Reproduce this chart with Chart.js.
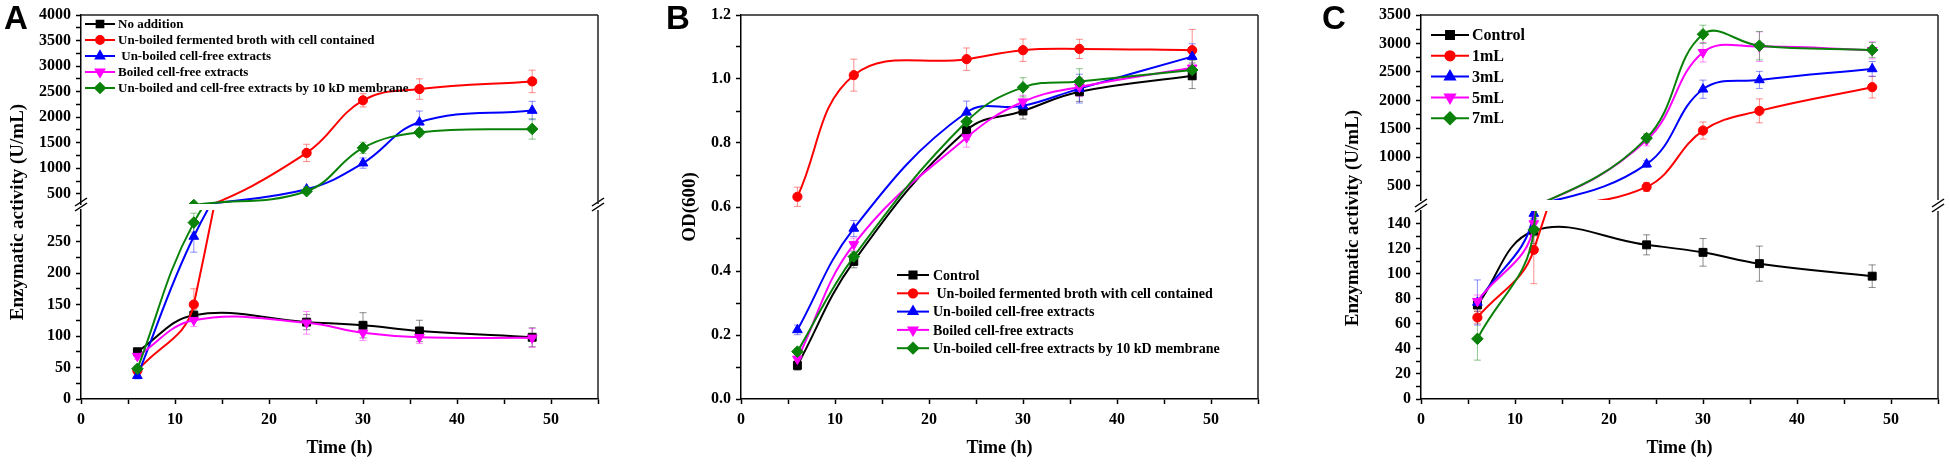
<!DOCTYPE html>
<html>
<head>
<meta charset="utf-8">
<script src="https://cdn.jsdelivr.net/npm/chart.js@4.4.1/dist/chart.umd.min.js"></script>
<style>
  html, body { margin: 0; padding: 0; background: #fff; }
  #wrap { position: relative; width: 1950px; height: 464px; overflow: hidden; background: #fff; }
  #wrap canvas { position: absolute; top: 0; }
</style>
</head>
<body>
<div id="wrap">
  <canvas id="aLower" width="650" height="464" style="left:0px"></canvas>
  <canvas id="aUpper" width="650" height="464" style="left:0px"></canvas>
  <canvas id="chartB" width="650" height="464" style="left:650px"></canvas>
  <canvas id="cLower" width="650" height="464" style="left:1300px"></canvas>
  <canvas id="cUpper" width="650" height="464" style="left:1300px"></canvas>
</div>
<script>
// sampling times (h)
const hours = [6, 12, 24, 30, 36, 48];

// x axis ticks
const xMajor = [0, 10, 20, 30, 40, 50];
const xMinor = [5, 15, 25, 35, 45, 55];

// ---- panel A : enzymatic activity (U/mL)
const namesA = ["No addition", "Un-boiled fermented broth with cell contained",
  " Un-boiled cell-free extracts", "Boiled cell-free extracts",
  "Un-boiled and cell-free extracts by 10 kD membrane"];
const noAdditionA = [75, 133, 122, 117, 108, 98];
const noAdditionErrA = [5, 8, 12, 20, 17, 15];
const brothA = [45, 150, 1300, 2330, 2550, 2700];
const brothErrA = [5, 25, 170, 130, 200, 220];
const cellFreeA = [37, 258, 590, 1100, 1900, 2130];
const cellFreeErrA = [5, 25, 40, 100, 220, 180];
const boiledA = [68, 125, 121, 105, 98, 97];
const boiledErrA = [5, 10, 18, 12, 10, 15];
const membraneA = [48, 280, 550, 1400, 1700, 1770];
const membraneErrA = [5, 15, 40, 110, 70, 200];
const yMajorAUpper = [500, 1000, 1500, 2000, 2500, 3000, 3500, 4000];
const yMinorAUpper = [750, 1250, 1750, 2250, 2750, 3250, 3750];
const yMajorALower = [0, 50, 100, 150, 200, 250];
const yMinorALower = [25, 75, 125, 175, 225, 275];

// ---- panel B : OD(600)
const namesB = ["Control", " Un-boiled fermented broth with cell contained",
  "Un-boiled cell-free extracts", "Boiled cell-free extracts",
  "Un-boiled cell-free extracts by 10 kD membrane"];
const controlB = [0.105, 0.43, 0.84, 0.90, 0.96, 1.01];
const controlErrB = [0.015, 0.02, 0.03, 0.025, 0.03, 0.04];
const brothB = [0.632, 1.012, 1.062, 1.09, 1.094, 1.09];
const brothErrB = [0.03, 0.05, 0.035, 0.035, 0.03, 0.065];
const cellFreeB = [0.216, 0.533, 0.896, 0.916, 0.97, 1.07];
const cellFreeErrB = [0.015, 0.025, 0.035, 0.02, 0.045, 0.04];
const boiledB = [0.125, 0.483, 0.817, 0.929, 0.975, 1.035];
const boiledErrB = [0.01, 0.02, 0.03, 0.02, 0.03, 0.03];
const membraneB = [0.148, 0.445, 0.867, 0.974, 0.992, 1.028];
const membraneErrB = [0.01, 0.015, 0.02, 0.03, 0.04, 0.03];
const yMajorB = [0, 0.2, 0.4, 0.6, 0.8, 1.0, 1.2];
const yMinorB = [0.1, 0.3, 0.5, 0.7, 0.9, 1.1];

// ---- panel C : enzymatic activity with added volume
const namesC = ["Control", "1mL", "3mL", "5mL", "7mL"];
const controlC = [75, 134, 123, 117, 108, 98];
const controlErrC = [5, 10, 8, 11, 14, 9];
const oneMlC = [65, 119, 480, 1470, 1816, 2232];
const oneMlErrC = [5, 27, 80, 150, 210, 190];
const threeMlC = [77, 148, 880, 2196, 2360, 2553];
const threeMlErrC = [18, 5, 60, 160, 150, 130];
const fiveMlC = [78, 140, 1300, 2845, 2944, 2880];
const fiveMlErrC = [5, 5, 100, 170, 260, 150];
const sevenMlC = [48, 135, 1337, 3161, 2961, 2886];
const sevenMlErrC = [17, 5, 80, 160, 250, 130];
const yMajorCUpper = [500, 1000, 1500, 2000, 2500, 3000, 3500];
const yMinorCUpper = [750, 1250, 1750, 2250, 2750, 3250];
const yMajorCLower = [0, 20, 40, 60, 80, 100, 120, 140];
const yMinorCLower = [10, 30, 50, 70, 90, 110, 130];

// series styles (shared by the three panels)
const seriesColors = ["#000000", "#ff0000", "#0000ff", "#ff00ff", "#0a820a"];
const errorColors = ["rgba(0,0,0,0.45)", "rgba(255,0,0,0.45)", "rgba(0,0,255,0.45)",
  "rgba(255,0,255,0.45)", "rgba(0,128,0,0.45)"];
const markerStyles = ["rect", "circle", "triangle", "triangle", "rectRot"];
const markerRotation = [0, 0, 0, 180, 0];
const markerRadius = { rect: 5.6, circle: 4.6, triangle: 5.6, rectRot: 5.8 };

Chart.defaults.font.family = "'Liberation Serif', 'Times New Roman', serif";
Chart.defaults.font.weight = "bold";
Chart.defaults.color = "#000";

function makeDatasets(names, values, errors) {
  return names.map((name, i) => ({
    label: name,
    data: hours.map((h, j) => ({ x: h, y: values[i][j] })),
    errors: errors[i],
    errorColor: errorColors[i],
    borderColor: seriesColors[i],
    backgroundColor: seriesColors[i],
    borderWidth: 2,
    tension: 0.4,
    pointStyle: markerStyles[i],
    pointRotation: markerRotation[i],
    pointRadius: markerRadius[markerStyles[i]],
    pointBorderWidth: 1,
    pointHoverRadius: markerRadius[markerStyles[i]],
    clip: 0,
    order: -i
  }));
}

// error bars drawn below the lines
const errorBars = {
  id: "errorBars",
  beforeDatasetsDraw(chart) {
    const { ctx, chartArea: a } = chart;
    ctx.save();
    ctx.beginPath();
    ctx.rect(a.left, a.top, a.right - a.left, a.bottom - a.top);
    ctx.clip();
    chart.data.datasets.forEach((ds, i) => {
      const meta = chart.getDatasetMeta(i);
      ctx.strokeStyle = ds.errorColor;
      ctx.lineWidth = 1;
      ds.data.forEach((p, j) => {
        const e = ds.errors[j];
        const x = meta.xScale.getPixelForValue(p.x);
        const y1 = meta.yScale.getPixelForValue(p.y + e);
        const y2 = meta.yScale.getPixelForValue(p.y - e);
        ctx.beginPath();
        ctx.moveTo(x, y1); ctx.lineTo(x, y2);
        ctx.moveTo(x - 3.5, y1); ctx.lineTo(x + 3.5, y1);
        ctx.moveTo(x - 3.5, y2); ctx.lineTo(x + 3.5, y2);
        ctx.stroke();
      });
    });
    ctx.restore();
  }
};

// top / right frame lines
const frame = {
  id: "frame",
  afterDraw(chart, args, opts) {
    const { ctx, chartArea: a } = chart;
    ctx.save();
    ctx.strokeStyle = "#222";
    ctx.lineWidth = 1.5;
    ctx.beginPath();
    ctx.moveTo(a.right, a.top);
    ctx.lineTo(a.right, a.bottom);
    if (opts.top) {
      ctx.moveTo(a.left, a.top);
      ctx.lineTo(a.right, a.top);
    }
    ctx.stroke();
    ctx.restore();
  }
};

// "//" marks of the broken y axis
const axisBreak = {
  id: "axisBreak",
  afterDraw(chart, args, opts) {
    if (!opts.show) return;
    const { ctx, chartArea: a } = chart;
    ctx.save();
    ctx.strokeStyle = "#000";
    ctx.lineWidth = 1.5;
    [a.left, a.right].forEach(x => {
      [a.top - 8, a.top - 3].forEach(y => {
        ctx.beginPath();
        ctx.moveTo(x - 6, y + 4);
        ctx.lineTo(x + 6, y - 4);
        ctx.stroke();
      });
    });
    ctx.restore();
  }
};

function drawMarker(ctx, style, rotation, x, y, r) {
  if (Chart.helpers && Chart.helpers.drawPoint) {
    Chart.helpers.drawPoint(ctx, { pointStyle: style, rotation: rotation, radius: r, borderWidth: 1 }, x, y);
    return;
  }
  ctx.beginPath();
  ctx.arc(x, y, r * 0.8, 0, Math.PI * 2);
  ctx.fill();
}

// legend drawn inside the plot, as a vertical list
const sideLegend = {
  id: "sideLegend",
  afterDraw(chart, args, opts) {
    if (!opts.show) return;
    const ctx = chart.ctx;
    ctx.save();
    ctx.font = "bold " + opts.size + "px 'Liberation Serif', 'Times New Roman', serif";
    ctx.textBaseline = "middle";
    ctx.textAlign = "left";
    chart.data.datasets.forEach((ds, i) => {
      const y = opts.y + i * opts.step;
      ctx.strokeStyle = ds.borderColor;
      ctx.fillStyle = ds.backgroundColor;
      ctx.lineWidth = 2;
      ctx.beginPath();
      ctx.moveTo(opts.x, y);
      ctx.lineTo(opts.x + opts.lineLen, y);
      ctx.stroke();
      drawMarker(ctx, ds.pointStyle, ds.pointRotation, opts.x + opts.lineLen / 2, y, ds.pointRadius * opts.scale);
      ctx.fillStyle = "#000";
      ctx.fillText(ds.label, opts.x + opts.lineLen + opts.gap, y + 1);
    });
    ctx.restore();
  }
};

// panel letters and shared y titles
const notes = {
  id: "notes",
  afterDraw(chart, args, opts) {
    if (!opts.items) return;
    const ctx = chart.ctx;
    opts.items.forEach(it => {
      ctx.save();
      ctx.font = it.font;
      ctx.fillStyle = "#000";
      ctx.textAlign = it.align || "center";
      ctx.textBaseline = it.baseline || "middle";
      ctx.translate(it.x, it.y);
      if (it.rotate) ctx.rotate(it.rotate * Math.PI / 180);
      ctx.fillText(it.text, 0, 0);
      ctx.restore();
    });
  }
};

Chart.register(errorBars, frame, axisBreak, sideLegend, notes);

const axisGrid = { drawOnChartArea: false, drawTicks: true, tickLength: 5, tickColor: "#000", tickWidth: 1.5 };
const axisBorder = { display: true, color: "#000", width: 1.5 };

function xAxis(show) {
  return {
    type: "linear", min: 0, max: 55, display: show,
    afterBuildTicks: s => { s.ticks = xMajor.concat(xMinor).sort((a, b) => a - b).map(v => ({ value: v })); },
    afterFit: s => { s.height = show ? 65 : 0; },
    grid: axisGrid,
    border: axisBorder,
    ticks: { autoSkip: false, maxRotation: 0, padding: 6, font: { size: 16, weight: "bold" },
      callback: v => xMajor.includes(v) ? String(v) : "" },
    title: { display: true, text: "Time (h)", font: { size: 18, weight: "bold" }, padding: { top: 0, bottom: 5 } }
  };
}

function yAxis(min, max, majors, minors, fmt, width, title) {
  return {
    type: "linear", min: min, max: max,
    afterBuildTicks: s => { s.ticks = majors.concat(minors).sort((a, b) => a - b).map(v => ({ value: v })); },
    afterFit: s => { s.width = width; },
    grid: axisGrid,
    border: axisBorder,
    ticks: { autoSkip: false, padding: 5, font: { size: 16, weight: "bold" },
      callback: v => majors.includes(v) ? fmt(v) : "" },
    title: title || { display: false }
  };
}

function makeChart(id, datasets, x, y, padding, plugins) {
  return new Chart(document.getElementById(id), {
    type: "line",
    data: { datasets: datasets },
    options: {
      responsive: false,
      animation: false,
      devicePixelRatio: 1,
      layout: { padding: padding },
      scales: { x: x, y: y },
      plugins: Object.assign({ legend: { display: false }, tooltip: { enabled: false } }, plugins)
    }
  });
}

const intLabel = v => String(v);
const letterFont = "bold 33px 'Liberation Sans', Arial, sans-serif";
const yTitleFont = "bold 19px 'Liberation Serif', 'Times New Roman', serif";

// panel A
const dataA = [noAdditionA, brothA, cellFreeA, boiledA, membraneA];
const errA = [noAdditionErrA, brothErrA, cellFreeErrA, boiledErrA, membraneErrA];
makeChart("aLower", makeDatasets(namesA, dataA, errA), xAxis(true),
  yAxis(0, 300, yMajorALower, yMinorALower, intLabel, 81),
  { left: 0, right: 52, top: 210, bottom: 0 },
  { frame: { top: false }, axisBreak: { show: true },
    notes: { items: [
      { text: "A", x: 4, y: 3, font: letterFont, align: "left", baseline: "top" },
      { text: "Enzymatic activity (U/mL)", x: 18, y: 212, rotate: -90, font: yTitleFont }
    ] } });
makeChart("aUpper", makeDatasets(namesA, dataA, errA), xAxis(false),
  yAxis(300, 4000, yMajorAUpper, yMinorAUpper, intLabel, 81),
  { left: 0, right: 52, top: 15, bottom: 260 },
  { frame: { top: true },
    sideLegend: { show: true, x: 85, y: 24, step: 16, lineLen: 30, gap: 3, size: 13, scale: 0.85 } });

// panel B
const dataB = [controlB, brothB, cellFreeB, boiledB, membraneB];
const errB = [controlErrB, brothErrB, cellFreeErrB, boiledErrB, membraneErrB];
makeChart("chartB", makeDatasets(namesB, dataB, errB), xAxis(true),
  yAxis(0, 1.2, yMajorB, yMinorB, v => v.toFixed(1), 91,
    { display: true, text: "OD(600)", font: { size: 19, weight: "bold" }, padding: { top: 29, bottom: 0 } }),
  { left: 0, right: 42, top: 15, bottom: 0 },
  { frame: { top: true },
    sideLegend: { show: true, x: 247, y: 275, step: 18.3, lineLen: 32, gap: 4, size: 14, scale: 0.9 },
    notes: { items: [
      { text: "B", x: 16, y: 3, font: letterFont, align: "left", baseline: "top" }
    ] } });

// panel C
const dataC = [controlC, oneMlC, threeMlC, fiveMlC, sevenMlC];
const errC = [controlErrC, oneMlErrC, threeMlErrC, fiveMlErrC, sevenMlErrC];
makeChart("cLower", makeDatasets(namesC, dataC, errC), xAxis(true),
  yAxis(0, 150, yMajorCLower, yMinorCLower, intLabel, 121),
  { left: 0, right: 12, top: 211, bottom: 0 },
  { frame: { top: false }, axisBreak: { show: true },
    notes: { items: [
      { text: "C", x: 22, y: 3, font: letterFont, align: "left", baseline: "top" },
      { text: "Enzymatic activity (U/mL)", x: 53, y: 218, rotate: -90, font: yTitleFont }
    ] } });
makeChart("cUpper", makeDatasets(namesC, dataC, errC), xAxis(false),
  yAxis(250, 3500, yMajorCUpper, yMinorCUpper, intLabel, 121),
  { left: 0, right: 12, top: 15, bottom: 264 },
  { frame: { top: true },
    sideLegend: { show: true, x: 131, y: 35, step: 20.8, lineLen: 38, gap: 3, size: 16, scale: 1 } });
</script>
</body>
</html>
